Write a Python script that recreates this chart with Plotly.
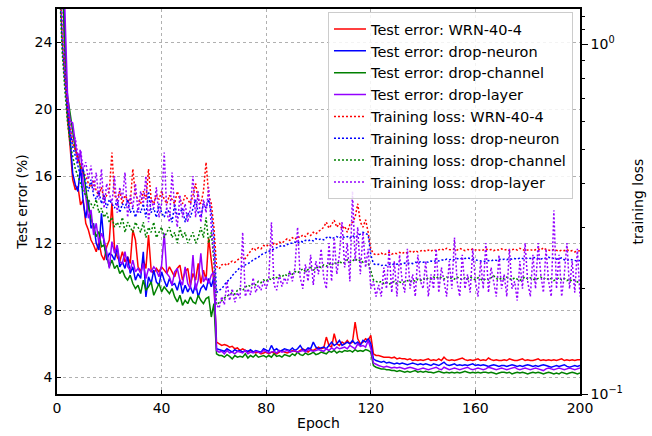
import plotly.graph_objects as go

epochs = list(range(1, 201))

err_wrn = [
    48, 30, 23, 19.5, 17.8, 15.8, 15.2, 15.4, 14.3, 14.6,
    13.2, 12.8, 12.2, 11.9, 11.5, 12.1, 11.3, 11.0, 11.8, 12.2,
    14.4, 11.7, 11.2, 10.9, 11.5, 10.9, 11.2, 10.8, 12.8, 12.2,
    10.6, 10.3, 11.0, 10.5, 12.5, 10.4, 10.2, 10.5, 10.3, 10.6,
    10.4, 10.2, 10.6, 10.3, 10.0, 10.5, 10.7, 9.8, 10.3, 10.5,
    9.5, 10.2, 9.8, 10.8, 9.6, 10.4, 9.8, 12.3, 11.0, 9.7,
    6.1, 6.0, 5.9, 5.95, 5.9, 5.8, 5.85, 5.7, 5.75, 5.6,
    5.7, 5.6, 5.5, 5.6, 5.5, 5.45, 5.5, 5.4, 5.45, 5.5,
    5.4, 5.5, 5.45, 5.4, 5.5, 5.6, 5.5, 5.45, 5.5, 5.6,
    5.55, 5.5, 5.6, 5.7, 5.6, 5.5, 5.65, 5.6, 5.7, 5.8,
    5.7, 5.75, 6.4, 5.9, 5.8, 6.6, 6.0, 5.9, 6.1, 6.0,
    6.2, 6.0, 6.1, 7.3, 6.3, 6.0, 6.1, 6.3, 6.2, 6.5,
    5.4, 5.3, 5.3, 5.25, 5.2, 5.2, 5.2, 5.15, 5.2, 5.1,
    5.15, 5.1, 5.1, 5.05, 5.1, 5.0, 5.05, 5.0, 5.05, 5.0,
    5.05, 5.1, 5.0, 5.05, 5.0, 5.1, 5.0, 5.2, 5.05, 5.0,
    5.05, 5.0, 5.05, 5.1, 5.15, 5.05, 5.0, 5.05, 5.0, 5.05,
    5.1, 5.0, 5.05, 5.0, 5.15, 5.05, 5.0, 5.05, 5.0, 5.0,
    5.05, 5.0, 5.1, 5.05, 5.0, 5.0, 5.05, 5.1, 5.0, 5.05,
    5.0, 5.0, 5.05, 5.1, 5.0, 5.05, 5.0, 5.05, 5.0, 5.05,
    5.0, 5.05, 5.1, 5.0, 5.05, 5.0, 5.05, 5.0, 5.05, 5.05,
]

err_neuron = [
    45, 32, 24, 20, 18.3, 16.2, 15.5, 15.1, 16.6, 14.5,
    13.5, 14.6, 12.9, 13.2, 12.0, 11.6, 13.8, 12.0, 11.0, 11.4,
    11.3, 11.0, 11.8, 10.6, 10.9, 10.5, 11.2, 10.2, 10.6, 9.8,
    10.2, 9.9, 11.5, 8.8, 10.0, 9.6, 10.4, 9.7, 9.5, 10.3,
    9.8, 9.4, 9.9, 9.5, 9.6, 9.2, 9.8, 9.0, 9.5, 9.1,
    9.4, 9.0, 9.6, 8.8, 9.3, 9.5, 9.2, 9.9, 9.4, 10.0,
    5.7, 5.65, 5.6, 5.55, 5.7, 5.6, 5.5, 5.65, 5.55, 5.6,
    5.5, 5.6, 5.55, 5.65, 5.5, 5.6, 5.55, 5.5, 5.7, 5.6,
    5.55, 5.9, 5.6, 5.7, 5.55, 5.6, 5.7, 5.65, 5.6, 5.75,
    5.6, 5.7, 5.9, 5.65, 5.6, 5.75, 5.7, 6.1, 5.8, 5.7,
    5.75, 5.8, 5.7, 5.9, 6.1, 5.9, 6.0, 6.2, 5.9, 6.0,
    6.1, 6.0, 6.2, 6.0, 6.1, 5.9, 6.2, 6.1, 6.3, 6.0,
    5.1, 5.0, 4.95, 4.9, 4.95, 4.85, 4.9, 4.85, 4.8, 4.85,
    4.8, 4.85, 4.8, 4.75, 4.8, 4.85, 4.8, 4.75, 4.8, 4.75,
    4.8, 4.75, 4.7, 4.8, 4.75, 4.7, 4.8, 4.9, 4.75, 4.7,
    4.75, 4.8, 4.7, 4.75, 4.7, 4.75, 4.7, 4.75, 4.8, 4.7,
    4.75, 4.7, 4.75, 4.7, 4.65, 4.7, 4.75, 4.7, 4.65, 4.7,
    4.7, 4.65, 4.7, 4.75, 4.7, 4.65, 4.7, 4.65, 4.7, 4.75,
    4.7, 4.65, 4.7, 4.65, 4.7, 4.75, 4.7, 4.65, 4.6, 4.65,
    4.7, 4.65, 4.7, 4.75, 4.65, 4.6, 4.65, 4.7, 4.65, 4.7,
]

err_channel = [
    42, 28, 23.5, 20.8, 19.8, 18.6, 17.6, 17.2, 16.5, 16.4,
    15.2, 14.2, 13.5, 13.0, 12.4, 12.7, 11.8, 11.9, 11.2, 10.6,
    11.0, 10.5, 10.7, 10.2, 10.4, 10.0, 9.8, 10.1, 9.6, 9.3,
    9.5, 9.0, 9.8, 9.2, 9.4, 9.7, 8.9, 9.3, 9.6, 9.1,
    9.4, 9.2, 9.0, 9.3, 8.8, 8.5, 8.9, 8.3, 8.6, 8.4,
    8.8, 8.5, 8.4, 8.9, 8.6, 8.4, 8.7, 8.8, 7.6, 8.4,
    5.4, 5.3, 5.3, 5.2, 5.35, 5.25, 5.1, 5.3, 5.2, 5.25,
    5.2, 5.4, 5.15, 5.3, 5.2, 5.35, 5.2, 5.25, 5.3, 5.2,
    5.3, 5.2, 5.4, 5.25, 5.3, 5.2, 5.35, 5.3, 5.25, 5.4,
    5.3, 5.5, 5.35, 5.3, 5.45, 5.35, 5.4, 5.5, 5.35, 5.4,
    5.5, 5.45, 5.4, 5.55, 5.5, 5.6, 5.45, 5.55, 5.5, 5.6,
    5.55, 5.6, 5.5, 5.65, 5.55, 5.6, 5.55, 5.65, 5.6, 5.5,
    4.7, 4.6, 4.55, 4.5, 4.5, 4.45, 4.45, 4.4, 4.4, 4.35,
    4.4, 4.35, 4.3, 4.35, 4.3, 4.35, 4.4, 4.3, 4.35, 4.3,
    4.35, 4.3, 4.3, 4.25, 4.3, 4.35, 4.3, 4.25, 4.3, 4.25,
    4.3, 4.25, 4.3, 4.25, 4.3, 4.35, 4.3, 4.25, 4.3, 4.25,
    4.3, 4.25, 4.3, 4.3, 4.25, 4.3, 4.25, 4.2, 4.25, 4.3,
    4.3, 4.25, 4.3, 4.2, 4.25, 4.3, 4.25, 4.3, 4.25, 4.2,
    4.25, 4.3, 4.25, 4.3, 4.25, 4.2, 4.25, 4.3, 4.25, 4.2,
    4.25, 4.2, 4.3, 4.25, 4.2, 4.25, 4.3, 4.25, 4.2, 4.25,
]

err_layer = [
    50, 38, 26, 21, 19.3, 19.2, 17.8, 16.8, 17.5, 15.6,
    14.8, 13.5, 14.0, 12.5, 13.2, 12.0, 12.6, 12.2, 11.5, 10.5,
    12.1, 11.4, 11.9, 10.9, 10.8, 11.5, 10.6, 10.4, 11.0, 10.3,
    10.5, 10.2, 10.8, 9.9, 10.5, 10.3, 10.6, 10.4, 10.0, 10.7,
    12.6, 10.2, 10.0, 9.5, 10.3, 10.5, 9.8, 9.5, 10.6, 9.6,
    9.3, 11.3, 9.2, 9.8, 11.4, 9.7, 10.0, 9.6, 10.1, 10.3,
    5.6, 5.5, 5.55, 5.4, 5.6, 5.45, 5.5, 5.4, 5.55, 5.5,
    5.45, 5.6, 5.4, 5.5, 5.45, 5.55, 5.5, 5.45, 5.6, 5.5,
    5.45, 5.5, 5.55, 5.45, 5.6, 5.5, 5.55, 5.6, 5.5, 5.55,
    5.6, 5.5, 5.55, 5.6, 5.5, 5.65, 5.6, 5.55, 5.6, 5.65,
    5.6, 5.55, 5.7, 5.6, 5.75, 5.65, 5.8, 5.7, 5.75, 5.8,
    5.7, 5.9, 5.8, 5.7, 6.0, 5.85, 5.9, 5.8, 6.2, 5.7,
    4.85, 4.75, 4.7, 4.65, 4.6, 4.65, 4.6, 4.55, 4.6, 4.55,
    4.6, 4.55, 4.5, 4.55, 4.6, 4.55, 4.5, 4.45, 4.5, 4.55,
    4.5, 4.45, 4.5, 4.55, 4.6, 4.5, 4.45, 4.6, 4.5, 4.45,
    4.5, 4.55, 4.5, 4.45, 4.5, 4.55, 4.6, 4.5, 4.45, 4.5,
    4.55, 4.5, 4.45, 4.5, 4.6, 4.55, 4.5, 4.45, 4.5, 4.55,
    4.5, 4.45, 4.5, 4.55, 4.6, 4.5, 4.45, 4.5, 4.55, 4.5,
    4.45, 4.5, 4.55, 4.5, 4.45, 4.4, 4.5, 4.55, 4.5, 4.45,
    4.5, 4.55, 4.5, 4.45, 4.5, 4.55, 4.5, 4.45, 4.5, 4.55,
]

loss_wrn = [
    1.6, 1.05, 0.80, 0.66, 0.58, 0.52, 0.50, 0.47, 0.45, 0.43,
    0.42, 0.40, 0.39, 0.41, 0.38, 0.37, 0.39, 0.36, 0.37, 0.38,
    0.49, 0.37, 0.36, 0.38, 0.35, 0.37, 0.36, 0.35, 0.44, 0.37,
    0.36, 0.35, 0.38, 0.36, 0.44, 0.36, 0.35, 0.37, 0.36, 0.38,
    0.36, 0.35, 0.37, 0.36, 0.35, 0.38, 0.36, 0.35, 0.37, 0.36,
    0.35, 0.37, 0.40, 0.36, 0.35, 0.38, 0.46, 0.37, 0.35, 0.30,
    0.232, 0.228, 0.234, 0.236, 0.233, 0.237, 0.24, 0.238, 0.242, 0.245,
    0.246, 0.244, 0.25, 0.256, 0.262, 0.258, 0.262, 0.26, 0.266, 0.264,
    0.268, 0.265, 0.27, 0.268, 0.272, 0.27, 0.274, 0.278, 0.275, 0.28,
    0.277, 0.282, 0.28, 0.285, 0.282, 0.288, 0.284, 0.29, 0.287, 0.292,
    0.295, 0.30, 0.31, 0.298, 0.305, 0.314, 0.30, 0.308, 0.296, 0.302,
    0.29, 0.305, 0.31, 0.32, 0.35, 0.31, 0.30, 0.315, 0.29, 0.26,
    0.252, 0.25, 0.251, 0.253, 0.25, 0.252, 0.254, 0.251, 0.253, 0.252,
    0.254, 0.252, 0.255, 0.253, 0.256, 0.254, 0.257, 0.255, 0.256, 0.258,
    0.256, 0.258, 0.256, 0.259, 0.257, 0.258, 0.26, 0.258, 0.261, 0.259,
    0.258, 0.26, 0.258, 0.261, 0.259, 0.257, 0.259, 0.258, 0.26, 0.258,
    0.259, 0.257, 0.258, 0.26, 0.258, 0.259, 0.257, 0.259, 0.258, 0.26,
    0.258, 0.259, 0.257, 0.258, 0.26, 0.258, 0.261, 0.259, 0.257, 0.258,
    0.259, 0.257, 0.258, 0.26, 0.258, 0.262, 0.259, 0.258, 0.257, 0.259,
    0.258, 0.256, 0.258, 0.257, 0.259, 0.256, 0.257, 0.255, 0.256, 0.257,
]

loss_neuron = [
    1.5, 1.0, 0.78, 0.64, 0.56, 0.51, 0.48, 0.45, 0.42, 0.44,
    0.40, 0.38, 0.41, 0.37, 0.36, 0.38, 0.35, 0.37, 0.34, 0.36,
    0.35, 0.34, 0.36, 0.33, 0.35, 0.34, 0.36, 0.33, 0.34, 0.32,
    0.34, 0.33, 0.35, 0.32, 0.38, 0.33, 0.34, 0.32, 0.35, 0.33,
    0.32, 0.34, 0.33, 0.31, 0.35, 0.32, 0.33, 0.34, 0.31, 0.33,
    0.32, 0.34, 0.36, 0.33, 0.32, 0.35, 0.34, 0.36, 0.33, 0.28,
    0.195, 0.198, 0.20, 0.205, 0.21, 0.212, 0.218, 0.222, 0.226, 0.23,
    0.232, 0.234, 0.236, 0.238, 0.242, 0.244, 0.246, 0.25, 0.252, 0.254,
    0.256, 0.258, 0.26, 0.262, 0.264, 0.266, 0.265, 0.268, 0.27, 0.27,
    0.272, 0.27, 0.274, 0.272, 0.275, 0.274, 0.276, 0.274, 0.278, 0.276,
    0.278, 0.276, 0.28, 0.282, 0.278, 0.28, 0.282, 0.279, 0.283, 0.28,
    0.282, 0.279, 0.284, 0.28, 0.283, 0.286, 0.29, 0.288, 0.285, 0.25,
    0.236, 0.234, 0.235, 0.233, 0.234, 0.233, 0.235, 0.234, 0.236, 0.235,
    0.236, 0.235, 0.237, 0.236, 0.237, 0.236, 0.238, 0.237, 0.239, 0.238,
    0.239, 0.238, 0.24, 0.239, 0.241, 0.24, 0.242, 0.241, 0.243, 0.242,
    0.243, 0.242, 0.244, 0.243, 0.245, 0.244, 0.245, 0.244, 0.243, 0.242,
    0.241, 0.24, 0.239, 0.24, 0.241, 0.24, 0.242, 0.241, 0.243, 0.242,
    0.243, 0.242, 0.244, 0.243, 0.244, 0.243, 0.245, 0.244, 0.243, 0.245,
    0.244, 0.245, 0.246, 0.244, 0.243, 0.245, 0.244, 0.246, 0.245, 0.244,
    0.243, 0.244, 0.245, 0.242, 0.241, 0.243, 0.242, 0.241, 0.24, 0.241,
]

loss_channel = [
    1.45, 0.95, 0.74, 0.6, 0.52, 0.48, 0.44, 0.42, 0.40, 0.38,
    0.37, 0.36, 0.35, 0.34, 0.36, 0.33, 0.34, 0.32, 0.33, 0.31,
    0.32, 0.30, 0.31, 0.30, 0.32, 0.29, 0.31, 0.30, 0.29, 0.31,
    0.30, 0.29, 0.31, 0.28, 0.30, 0.29, 0.31, 0.28, 0.29, 0.30,
    0.28, 0.29, 0.30, 0.28, 0.29, 0.27, 0.30, 0.28, 0.29, 0.27,
    0.28, 0.29, 0.27, 0.28, 0.30, 0.28, 0.32, 0.27, 0.29, 0.24,
    0.18, 0.182, 0.185, 0.188, 0.19, 0.192, 0.195, 0.193, 0.198, 0.2,
    0.198, 0.202, 0.205, 0.203, 0.207, 0.205, 0.21, 0.208, 0.212, 0.21,
    0.214, 0.212, 0.216, 0.215, 0.218, 0.216, 0.22, 0.218, 0.222, 0.22,
    0.224, 0.222, 0.225, 0.228, 0.224, 0.227, 0.23, 0.226, 0.228, 0.232,
    0.23, 0.234, 0.232, 0.236, 0.233, 0.238, 0.235, 0.24, 0.236, 0.238,
    0.242, 0.238, 0.24, 0.244, 0.24, 0.242, 0.238, 0.24, 0.236, 0.225,
    0.212, 0.21, 0.208, 0.21, 0.207, 0.209, 0.206, 0.208, 0.21, 0.207,
    0.209, 0.208, 0.21, 0.211, 0.209, 0.212, 0.21, 0.213, 0.211, 0.214,
    0.212, 0.215, 0.213, 0.216, 0.214, 0.217, 0.215, 0.213, 0.216, 0.214,
    0.215, 0.213, 0.216, 0.214, 0.212, 0.215, 0.213, 0.216, 0.214, 0.212,
    0.215, 0.213, 0.211, 0.214, 0.212, 0.215, 0.218, 0.214, 0.212, 0.215,
    0.213, 0.216, 0.214, 0.212, 0.215, 0.213, 0.211, 0.214, 0.216, 0.213,
    0.215, 0.213, 0.212, 0.214, 0.216, 0.213, 0.215, 0.212, 0.214, 0.211,
    0.213, 0.215, 0.212, 0.214, 0.211, 0.213, 0.21, 0.212, 0.209, 0.211,
]

loss_layer = [
    1.7, 1.2, 0.85, 0.68, 0.6, 0.53, 0.54, 0.48, 0.5, 0.44,
    0.46, 0.41, 0.45, 0.38, 0.43, 0.36, 0.44, 0.34, 0.40, 0.37,
    0.35, 0.42, 0.33, 0.39, 0.36, 0.43, 0.32, 0.37, 0.34, 0.40,
    0.33, 0.38, 0.35, 0.42, 0.31, 0.36, 0.34, 0.39, 0.32, 0.35,
    0.49, 0.33, 0.31, 0.43, 0.34, 0.30, 0.37, 0.32, 0.35, 0.31,
    0.34, 0.42, 0.32, 0.38, 0.31, 0.36, 0.33, 0.39, 0.30, 0.25,
    0.18, 0.176, 0.19, 0.18, 0.21, 0.185, 0.2, 0.183, 0.195, 0.188,
    0.29, 0.19, 0.2, 0.192, 0.215, 0.195, 0.205, 0.198, 0.21, 0.2,
    0.215, 0.31, 0.205, 0.198, 0.22, 0.203, 0.215, 0.207, 0.225, 0.21,
    0.23, 0.30, 0.215, 0.2, 0.235, 0.21, 0.25, 0.205, 0.24, 0.22,
    0.26, 0.215, 0.20, 0.27, 0.21, 0.28, 0.22, 0.25, 0.31, 0.23,
    0.27, 0.21, 0.38, 0.24, 0.30, 0.22, 0.29, 0.23, 0.26, 0.20,
    0.21, 0.19, 0.205, 0.19, 0.23, 0.2, 0.26, 0.195, 0.24, 0.19,
    0.25, 0.21, 0.195, 0.26, 0.2, 0.22, 0.19, 0.25, 0.21, 0.2,
    0.24, 0.19, 0.22, 0.2, 0.26, 0.195, 0.23, 0.21, 0.19, 0.24,
    0.2, 0.28, 0.21, 0.19, 0.25, 0.2, 0.22, 0.195, 0.26, 0.21,
    0.19, 0.24, 0.2, 0.27, 0.195, 0.23, 0.21, 0.19, 0.25, 0.2,
    0.22, 0.19, 0.26, 0.2, 0.21, 0.185, 0.24, 0.2, 0.27, 0.21,
    0.19, 0.25, 0.2, 0.27, 0.22, 0.195, 0.26, 0.21, 0.19, 0.335,
    0.2, 0.25, 0.19, 0.22, 0.27, 0.2, 0.24, 0.195, 0.26, 0.19,
]

model_names = ["WRN-40-4", "drop-neuron", "drop-channel", "drop-layer"]
colors = ["#ff0000", "#0000ff", "#008000", "#9400ff"]
test_errors = [err_wrn, err_neuron, err_channel, err_layer]
train_losses = [loss_wrn, loss_neuron, loss_channel, loss_layer]

FONT = "DejaVu Sans"
TICK_FONT = dict(family=FONT, size=14, color="black")
TITLE_FONT = dict(family=FONT, size=14, color="black")

fig = go.Figure()

for name, color, err in zip(model_names, colors, test_errors):
    fig.add_trace(go.Scatter(
        x=epochs, y=err, mode="lines", name=f"Test error: {name}",
        line=dict(color=color, width=1.5), yaxis="y",
        legendgroup=f"err_{name}",
    ))

for name, color, loss in zip(model_names, colors, train_losses):
    fig.add_trace(go.Scatter(
        x=epochs, y=loss, mode="lines", name=f"Training loss: {name}",
        line=dict(color=color, width=1.5, dash="2px,2px"), yaxis="y2",
        legendgroup=f"loss_{name}",
    ))

grid = dict(showgrid=True, gridcolor="#b0b0b0", gridwidth=1, griddash="dot")

fig.update_layout(
    width=652, height=436,
    margin=dict(l=57, r=72, t=7, b=40),
    paper_bgcolor="white", plot_bgcolor="white",
    font=dict(family=FONT, size=14, color="black"),
    showlegend=True,
    legend=dict(
        x=0.9866, y=0.992, xanchor="right", yanchor="top",
        bgcolor="rgba(255,255,255,0.85)", bordercolor="#cccccc", borderwidth=1,
        font=dict(family=FONT, size=14.5, color="black"),
        itemwidth=32, tracegroupgap=2, traceorder="normal",
    ),
    xaxis=dict(
        range=[0, 200], tickvals=[0, 40, 80, 120, 160, 200],
        ticks="inside", ticklen=4, tickcolor="black", tickfont=TICK_FONT,
        showline=True, linecolor="black", linewidth=1.5, mirror=True,
        zeroline=False, title=dict(text="Epoch", standoff=4, font=TITLE_FONT),
        **grid,
    ),
    yaxis=dict(
        range=[3, 26], tickvals=[4, 8, 12, 16, 20, 24],
        ticks="inside", ticklen=4, tickcolor="black", tickfont=TICK_FONT,
        showline=True, linecolor="black", linewidth=1.5, mirror=True,
        zeroline=False, title=dict(text="Test error (%)", standoff=4, font=TITLE_FONT),
        **grid,
    ),
    yaxis2=dict(
        type="log", range=[-1, 0.101], overlaying="y", side="right",
        tickvals=[0.1, 1], ticktext=["10<sup>\u22121</sup>", "10<sup>0</sup>"],
        ticks="outside", ticklen=6, tickcolor="black", tickfont=TICK_FONT,
        minor=dict(ticks="outside", ticklen=3, tickcolor="black",
                   tickvals=[0.2, 0.3, 0.4, 0.5, 0.6, 0.7, 0.8, 0.9, 1.1, 1.2],
                   showgrid=False),
        showgrid=False, zeroline=False, showline=True, linecolor="black", linewidth=1.5,
        title=dict(text="training loss", standoff=11, font=TITLE_FONT),
    ),
)

fig.write_html("out.html")
